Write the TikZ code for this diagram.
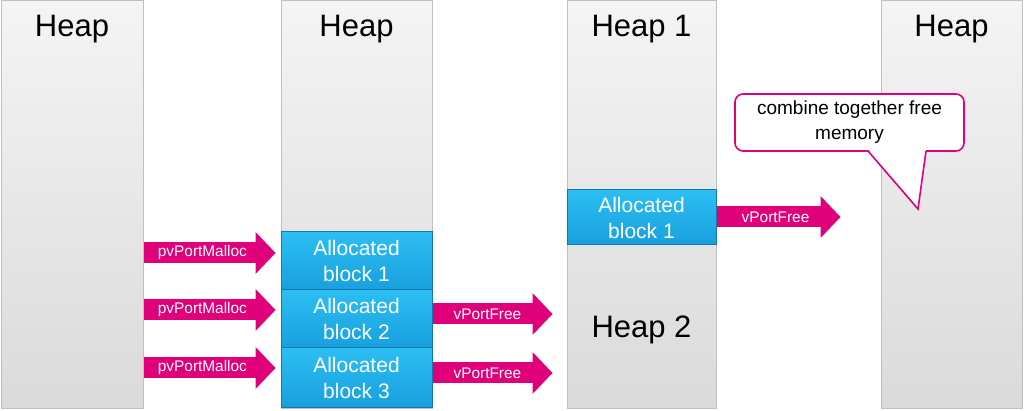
\documentclass[tikz,border=0pt]{standalone}
\usepackage{fontspec}
\setmainfont{Liberation Sans}
\usetikzlibrary{arrows.meta}

\definecolor{heapline}{RGB}{192,192,192}
\definecolor{heaptop}{RGB}{244,244,244}
\definecolor{heapbot}{RGB}{218,218,218}
\definecolor{blocktop}{RGB}{44,190,242}
\definecolor{blockbot}{RGB}{24,160,222}
\definecolor{blockline}{RGB}{20,120,170}
\definecolor{arrowpink}{RGB}{224,0,122}

\begin{document}
\begin{tikzpicture}[x=0.5pt,y=-0.5pt,
	heapnode/.style={rectangle, draw=heapline, line width=0.5pt, top color=heaptop, bottom color=heapbot, minimum width=#1, minimum height=204pt, inner sep=0pt},
	blocknode/.style={rectangle, draw=blockline, line width=0.5pt, top color=blocktop, bottom color=blockbot, text=white, align=center, font=\fontsize{10.5}{13}\selectfont, minimum width=#1, inner sep=0pt},
	titletext/.style={font=\fontsize{15.5}{18}\selectfont, inner sep=0pt},
	notenode/.style={rectangle, rounded corners=4pt, draw=arrowpink, line width=0.8pt, fill=white, align=center, font=\fontsize{9.5}{12.5}\selectfont, minimum width=114.5pt, minimum height=28.5pt, inner sep=0pt},
	bigarrow/.style={draw=arrowpink, line width=10.5pt, -{Triangle[width=21pt,length=10pt,line width=0pt]}, shorten >=#1},
	arrowtext/.style={text=white, font=\fontsize{7.7}{9}\selectfont, inner sep=0pt},
	]

	\useasboundingbox (0,0) rectangle (1024,411);

	%Nodes
	\node[heapnode=71pt]	(heapA)	at (72,205)		{};
	\node[heapnode=75.5pt]	(heapB)	at (356.5,205)	{};
	\node[heapnode=74.5pt]	(heapC)	at (641.5,205)	{};
	\node[heapnode=70.5pt]	(heapD)	at (951.5,205)	{};

	\node[titletext, anchor=base]	(titleA)	at ([yshift=-18pt]heapA.north)	{Heap};
	\node[titletext, anchor=base]	(titleB)	at ([yshift=-18pt]heapB.north)	{Heap};
	\node[titletext, anchor=base]	(titleC)	at ([yshift=-18pt]heapC.north)	{Heap 1};
	\node[titletext, anchor=base]	(titleC2)	at (641.5,338)					{Heap 2};
	\node[titletext, anchor=base]	(titleD)	at ([yshift=-18pt]heapD.north)	{Heap};

	\node[blocknode=75.5pt, minimum height=29pt]	(blkB1)	at (356.5,261)		{Allocated\\block 1};
	\node[blocknode=75.5pt, minimum height=29pt]	(blkB2)	at (356.5,319)		{Allocated\\block 2};
	\node[blocknode=75.5pt, minimum height=30pt]	(blkB3)	at (356.5,378)		{Allocated\\block 3};
	\node[blocknode=74.5pt, minimum height=27.5pt]	(blkC1)	at (641.5,217.5)	{Allocated\\block 1};

	\node[notenode]	(note)	at (849.5,122.5)	{combine together free\\memory};
	\coordinate (tip) at (918,209);
	\fill[white] (868,149.5) -- (tip) -- (926,149.5) -- cycle;
	\draw[arrowpink, line width=0.8pt] (868,151) -- (tip) -- (926,151);

	%Lines
	\draw[bigarrow=2.5pt] (heapA.east |- 0,253) -- (blkB1.west |- 0,253) node[arrowtext, pos=.43] {pvPortMalloc};
	\draw[bigarrow=2.5pt] (heapA.east |- 0,310) -- (blkB2.west |- 0,310) node[arrowtext, pos=.43] {pvPortMalloc};
	\draw[bigarrow=2.5pt] (heapA.east |- 0,368) -- (blkB3.west |- 0,368) node[arrowtext, pos=.43] {pvPortMalloc};
	\draw[bigarrow=7pt] (blkB2.east |- 0,314) -- (heapC.west |- 0,314) node[arrowtext, pos=.41] {vPortFree};
	\draw[bigarrow=7pt] (blkB3.east |- 0,373) -- (heapC.west |- 0,373) node[arrowtext, pos=.41] {vPortFree};
	\draw[bigarrow=20pt] (blkC1.east |- 0,217) -- (heapD.west |- 0,217) node[arrowtext, pos=.36] {vPortFree};

\end{tikzpicture}
\end{document}
